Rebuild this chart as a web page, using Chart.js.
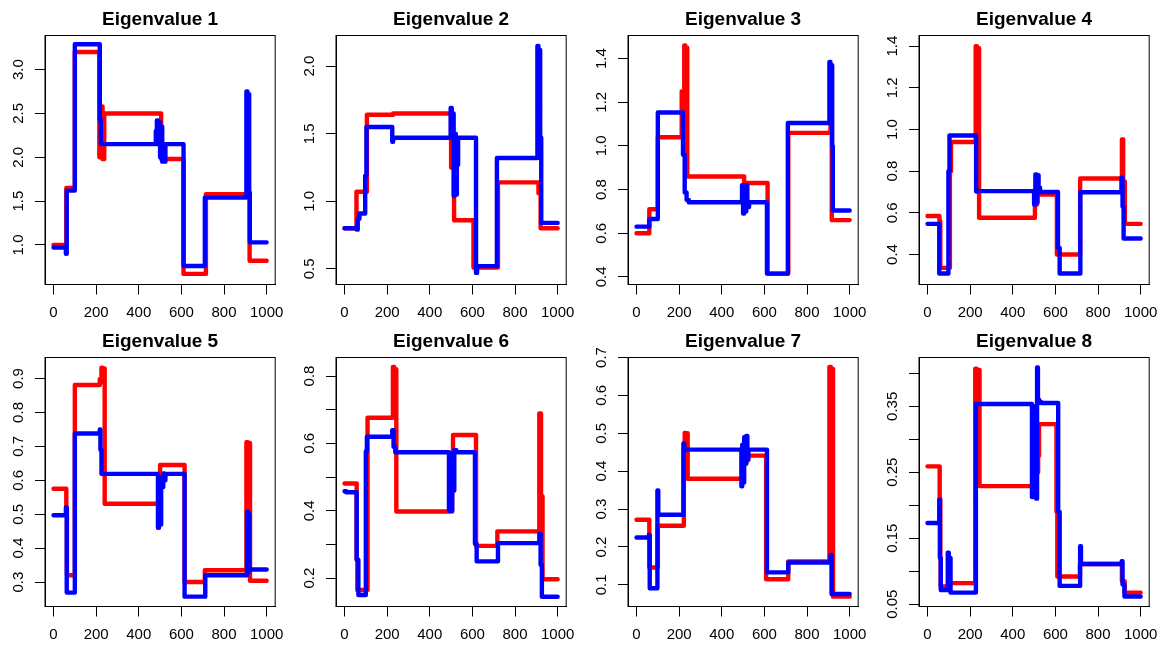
<!DOCTYPE html>
<html><head><meta charset="utf-8">
<script src="https://cdn.jsdelivr.net/npm/chart.js@4.4.1/dist/chart.umd.min.js"></script>
<style>
html,body{margin:0;padding:0;background:#fff;width:1173px;height:648px;overflow:hidden}
canvas{position:absolute}
</style></head><body>
<script>
// ---- data (x, value) breakpoints of each step series ----
const xTicks = [0, 200, 400, 600, 800, 1000];

const ev1Red  = [[0,1.0],[60,1.65],[100,3.2],[215,2.0],[224,2.58],[230,1.98],[238,2.5],[505,1.98],[610,0.67],[715,1.58],[920,0.82],[1000,0.82]];
const ev1Blue = [[0,0.97],[58,0.9],[62,1.62],[100,3.29],[217,2.43],[222,2.15],[480,2.3],[485,2.42],[490,2.15],[495,2.4],[500,2.0],[505,2.35],[510,1.95],[515,2.1],[520,1.95],[525,2.15],[610,0.76],[710,1.54],[905,2.75],[910,1.6],[914,2.72],[918,1.6],[921,1.03],[1000,1.03]];
const ev1YTicks = [1.0,1.5,2.0,2.5,3.0];
const ev1YLabels = ['1.0','1.5','2.0','2.5','3.0'];

const ev2Red  = [[0,0.8],[56,1.07],[105,1.64],[228,1.65],[500,1.25],[514,0.86],[605,0.51],[720,1.14],[910,1.06],[920,0.8],[1000,0.8]];
const ev2Blue = [[0,0.8],[58,0.79],[62,0.87],[70,0.91],[97,1.19],[103,1.55],[224,1.44],[228,1.47],[498,1.69],[503,1.47],[507,1.65],[512,1.04],[517,1.5],[522,1.05],[527,1.27],[533,1.47],[617,0.47],[622,0.52],[715,1.32],[905,2.15],[910,1.35],[914,2.12],[918,1.47],[923,0.84],[1000,0.84]];
const ev2YTicks = [0.5,1.0,1.5,2.0];
const ev2YLabels = ['0.5','1.0','1.5','2.0'];

const ev3Red  = [[0,0.6],[60,0.71],[100,1.04],[212,1.25],[220,1.04],[224,1.46],[229,0.9],[233,1.45],[238,0.86],[505,0.83],[615,0.415],[712,1.06],[910,1.09],[916,0.66],[1000,0.66]];
const ev3Blue = [[0,0.63],[60,0.665],[100,1.153],[218,0.96],[226,0.787],[235,0.753],[245,0.742],[495,0.82],[500,0.69],[505,0.82],[510,0.7],[515,0.82],[520,0.72],[528,0.742],[612,0.415],[710,1.105],[905,1.385],[910,1.1],[914,1.37],[918,1.0],[921,0.704],[1000,0.704]];
const ev3YTicks = [0.4,0.6,0.8,1.0,1.2,1.4];
const ev3YLabels = ['0.4','0.6','0.8','1.0','1.2','1.4'];

const ev4Red  = [[0,0.585],[56,0.56],[60,0.336],[105,0.8],[110,0.94],[226,1.40],[232,0.7],[236,1.39],[242,0.576],[504,0.64],[514,0.688],[607,0.40],[716,0.765],[912,0.952],[918,0.75],[926,0.547],[1000,0.547]];
const ev4Blue = [[0,0.547],[55,0.309],[98,0.8],[103,0.971],[228,0.704],[500,0.64],[506,0.784],[511,0.65],[516,0.78],[521,0.72],[528,0.70],[612,0.432],[620,0.309],[717,0.699],[910,0.768],[915,0.63],[920,0.477],[1000,0.477]];
const ev4YTicks = [0.4,0.6,0.8,1.0,1.2,1.4];
const ev4YLabels = ['0.4','0.6','0.8','1.0','1.2','1.4'];

const ev5Red  = [[0,0.575],[60,0.52],[63,0.32],[100,0.881],[217,0.898],[225,0.932],[230,0.89],[235,0.93],[240,0.531],[500,0.645],[615,0.30],[710,0.335],[905,0.712],[912,0.5],[916,0.71],[922,0.304],[1000,0.304]];
const ev5Blue = [[0,0.497],[58,0.52],[62,0.269],[100,0.738],[217,0.75],[220,0.69],[225,0.619],[490,0.46],[495,0.6],[500,0.47],[505,0.61],[510,0.58],[515,0.62],[520,0.6],[525,0.619],[615,0.257],[712,0.32],[908,0.507],[913,0.33],[916,0.5],[919,0.337],[1000,0.337]];
const ev5YTicks = [0.3,0.4,0.5,0.6,0.7,0.8,0.9];
const ev5YLabels = ['0.3','0.4','0.5','0.6','0.7','0.8','0.9'];

const ev6Red  = [[0,0.481],[57,0.255],[60,0.165],[108,0.676],[227,0.827],[233,0.7],[238,0.82],[243,0.398],[505,0.46],[509,0.625],[617,0.296],[717,0.339],[914,0.689],[922,0.443],[929,0.197],[1000,0.197]];
const ev6Blue = [[0,0.458],[8,0.455],[57,0.255],[65,0.15],[100,0.577],[105,0.62],[224,0.639],[230,0.59],[238,0.574],[490,0.40],[495,0.57],[500,0.40],[505,0.56],[510,0.46],[515,0.58],[525,0.574],[612,0.302],[620,0.25],[720,0.304],[914,0.332],[920,0.24],[926,0.145],[1000,0.145]];
const ev6YTicks = [0.2,0.3,0.4,0.5,0.6,0.7,0.8];
const ev6YLabels = ['0.2','','0.4','','0.6','','0.8'];

const ev7Red  = [[0,0.272],[60,0.146],[100,0.256],[222,0.46],[226,0.501],[232,0.45],[236,0.5],[240,0.38],[502,0.42],[515,0.441],[608,0.115],[712,0.162],[905,0.675],[912,0.3],[916,0.67],[922,0.069],[1000,0.069]];
const ev7Blue = [[0,0.225],[58,0.232],[62,0.091],[98,0.349],[102,0.285],[220,0.473],[224,0.457],[492,0.36],[496,0.47],[500,0.37],[505,0.49],[510,0.42],[515,0.493],[520,0.43],[525,0.457],[612,0.133],[712,0.159],[910,0.179],[915,0.076],[1000,0.076]];
const ev7YTicks = [0.1,0.2,0.3,0.4,0.5,0.6,0.7];
const ev7YLabels = ['0.1','0.2','0.3','0.4','0.5','0.6','0.7'];

const ev8Red  = [[0,0.259],[57,0.21],[60,0.12],[62,0.077],[98,0.082],[224,0.407],[230,0.3],[234,0.405],[244,0.229],[495,0.25],[519,0.275],[523,0.323],[605,0.19],[609,0.092],[715,0.111],[912,0.085],[925,0.0676],[1000,0.0676]];
const ev8Blue = [[0,0.173],[55,0.2085],[58,0.12],[62,0.0716],[95,0.128],[100,0.072],[104,0.12],[108,0.0676],[227,0.3535],[490,0.2126],[495,0.35],[500,0.22],[505,0.33],[510,0.21],[514,0.409],[518,0.36],[524,0.357],[532,0.355],[613,0.19],[620,0.0777],[716,0.138],[720,0.111],[911,0.115],[915,0.08],[924,0.0616],[1000,0.0616]];
const ev8YTicks = [0.05,0.10,0.15,0.20,0.25,0.30,0.35,0.40];
const ev8YLabels = ['0.05','','0.15','','0.25','','0.35',''];

const titles = ['Eigenvalue 1','Eigenvalue 2','Eigenvalue 3','Eigenvalue 4','Eigenvalue 5','Eigenvalue 6','Eigenvalue 7','Eigenvalue 8'];

// ---- layout / styling ----
const FONT = '"Liberation Sans", Arial, Helvetica, sans-serif';
const panels = [
  {red:ev1Red, blue:ev1Blue, yMin:0.549, yMax:3.389, ticks:ev1YTicks, labels:ev1YLabels},
  {red:ev2Red, blue:ev2Blue, yMin:0.384, yMax:2.227, ticks:ev2YTicks, labels:ev2YLabels},
  {red:ev3Red, blue:ev3Blue, yMin:0.365, yMax:1.506, ticks:ev3YTicks, labels:ev3YLabels},
  {red:ev4Red, blue:ev4Blue, yMin:0.256, yMax:1.451, ticks:ev4YTicks, labels:ev4YLabels},
  {red:ev5Red, blue:ev5Blue, yMin:0.228, yMax:0.962, ticks:ev5YTicks, labels:ev5YLabels},
  {red:ev6Red, blue:ev6Blue, yMin:0.116, yMax:0.855, ticks:ev6YTicks, labels:ev6YLabels},
  {red:ev7Red, blue:ev7Blue, yMin:0.043, yMax:0.700, ticks:ev7YTicks, labels:ev7YLabels},
  {red:ev8Red, blue:ev8Blue, yMin:0.0465, yMax:0.424, ticks:ev8YTicks, labels:ev8YLabels}
];
const lefts = [0, 291, 583, 874];
const tops = [0, 322];

const boxPlugin = {
  id: 'rbox',
  afterDraw(chart) {
    const {ctx, chartArea: a} = chart;
    ctx.save();
    ctx.strokeStyle = '#000';
    ctx.lineWidth = 1;
    ctx.strokeRect(a.left, a.top, a.right - a.left, a.bottom - a.top);
    const ys = chart.scales.y;
    ctx.fillStyle = '#000';
    ctx.font = '15px ' + FONT;
    ctx.textAlign = 'center';
    ctx.textBaseline = 'middle';
    ys.ticks.forEach(t => {
      if (!t.label) return;
      const py = ys.getPixelForValue(t.value);
      ctx.save();
      ctx.translate(18.5, py);
      ctx.rotate(-Math.PI / 2);
      ctx.fillText(t.label, 0, 0);
      ctx.restore();
    });
    ctx.restore();
  }
};

const lineStyle = {borderWidth: 4.4, stepped: 'before', pointRadius: 0, fill: false,
  borderCapStyle: 'round', borderJoinStyle: 'round', tension: 0};

panels.forEach((p, i) => {
  const c = document.createElement('canvas');
  c.width = 293; c.height = 324;
  c.style.left = lefts[i % 4] + 'px';
  c.style.top = tops[Math.floor(i / 4)] + 'px';
  c.style.width = '293px'; c.style.height = '324px';
  document.body.appendChild(c);
  new Chart(c, {
    type: 'line',
    data: {datasets: [
      Object.assign({data: p.red, borderColor: '#ff0000', order: 1}, lineStyle),
      Object.assign({data: p.blue, borderColor: '#0000ff', order: 0}, lineStyle)
    ]},
    options: {
      responsive: false, animation: false, devicePixelRatio: 1,
      layout: {padding: {left: 0, right: 10, top: 0, bottom: 0}},
      plugins: {
        legend: {display: false}, tooltip: {enabled: false},
        title: {display: true, text: titles[i], fullSize: false, color: '#000',
          font: {family: FONT, size: 19, weight: 'bold'}, padding: {top: 8.5, bottom: 4.2}}
      },
      scales: {
        x: {type: 'linear', min: -40, max: 1040,
          afterBuildTicks: s => { s.ticks = xTicks.map(v => ({value: v})); },
          afterFit: s => { s.height = 39.5; },
          grid: {drawOnChartArea: false, drawTicks: true, tickLength: 10, color: '#000', lineWidth: 1},
          border: {display: true, color: '#000', width: 1},
          ticks: {color: '#000', font: {family: FONT, size: 15}, padding: 9, maxRotation: 0, minRotation: 0, autoSkip: false,
            callback: v => String(v)}
        },
        y: {type: 'linear', min: p.yMin, max: p.yMax,
          afterBuildTicks: s => { s.ticks = p.ticks.map(v => ({value: v})); },
          afterFit: s => { s.width = 45; },
          grid: {drawOnChartArea: false, drawTicks: true, tickLength: 10, color: '#000', lineWidth: 1},
          border: {display: true, color: '#000', width: 1},
          ticks: {display: false, callback: (v, idx) => p.labels[idx]}
        }
      }
    },
    plugins: [boxPlugin]
  });
});
</script>
</body></html>
